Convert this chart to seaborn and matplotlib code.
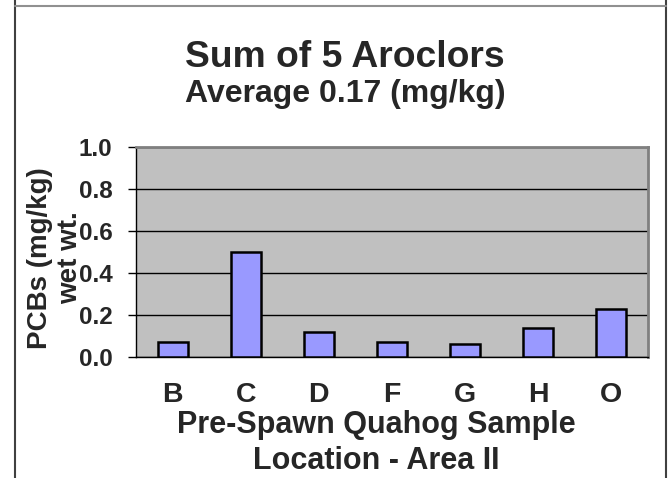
import matplotlib
matplotlib.use("Agg")
import matplotlib.pyplot as plt
import pandas as pd
import seaborn as sns
from matplotlib.lines import Line2D

locations = ["B", "C", "D", "F", "G", "H", "O"]
pcbs = [0.07, 0.50, 0.12, 0.07, 0.06, 0.14, 0.23]
y_ticks = [0.0, 0.2, 0.4, 0.6, 0.8, 1.0]
y_ticklabels = ["0.0", "0.2", "0.4", "0.6", "0.8", "1.0"]


def main():
    sns.set_style("white")
    plt.rcParams["font.family"] = ["Liberation Sans", "DejaVu Sans"]
    plt.rcParams["font.weight"] = "bold"

    df = pd.DataFrame({"loc": locations, "pcb": pcbs})

    W, H = 672, 478
    fig = plt.figure(figsize=(6.72, 4.78), dpi=100)
    ax = fig.add_axes([136 / W, 1 - 357 / H, 512 / W, 210 / H])
    ax.set_facecolor("#C0C0C0")

    sns.barplot(data=df, x="loc", y="pcb", color="#9999FF", width=0.41,
                edgecolor="black", linewidth=1.8, saturation=1, ax=ax, zorder=3)

    ax.set_ylim(0, 1.0)
    ax.set_xlim(-0.5, len(locations) - 0.5)
    ax.set_yticks(y_ticks)
    ax.set_yticklabels(y_ticklabels, fontsize=17.5, fontweight="bold")
    ax.yaxis.grid(True, color="black", linewidth=1, zorder=0)
    ax.set_axisbelow(True)

    ax.set_xticks(range(len(locations)))
    ax.set_xticklabels(locations, fontsize=20.5, fontweight="bold")
    ax.set_xticks([i - 0.5 for i in range(len(locations) + 1)], minor=True)
    ax.tick_params(axis="x", which="major", length=0, pad=18)
    ax.tick_params(axis="x", which="minor", length=6, width=1, color="black", direction="out")
    ax.tick_params(axis="y", which="major", length=6, width=1, color="black",
                   direction="out", pad=11, left=True)

    for side in ["left", "bottom"]:
        ax.spines[side].set_color("black")
        ax.spines[side].set_linewidth(1)
    for side in ["top", "right"]:
        ax.spines[side].set_color("#808080")
        ax.spines[side].set_linewidth(2)

    # va="baseline" anchors the last line of the label
    ax.set_xlabel("Pre-Spawn Quahog Sample\nLocation - Area II", fontsize=22,
                  fontweight="bold", linespacing=1.24, va="baseline")
    ax.xaxis.set_label_coords((376 - 136) / 512, -(469 - 357) / 210)
    ax.set_ylabel("")
    fig.text(55 / W, 1 - 258 / H, "PCBs (mg/kg)\nwet wt.", rotation=90, fontsize=20,
             fontweight="bold", ha="center", va="center", linespacing=1.23)

    fig.text(345 / W, 1 - 67 / H, "Sum of 5 Aroclors", fontsize=26.8, fontweight="bold",
             ha="center", va="baseline")
    fig.text(345 / W, 1 - 102 / H, "Average 0.17 (mg/kg)", fontsize=23, fontweight="bold",
             ha="center", va="baseline")

    # frame around the chart
    fig.add_artist(Line2D([14.5 / W, 14.5 / W], [0, 1], color="#404040", linewidth=1.5,
                          transform=fig.transFigure))
    fig.add_artist(Line2D([665.5 / W, 665.5 / W], [0, 1], color="#404040", linewidth=1.5,
                          transform=fig.transFigure))
    fig.add_artist(Line2D([14.5 / W, 665.5 / W], [1 - 5.5 / H, 1 - 5.5 / H],
                          color="#909090", linewidth=1.5, transform=fig.transFigure))

    fig.savefig("out.png", dpi=100)


if __name__ == "__main__":
    main()
